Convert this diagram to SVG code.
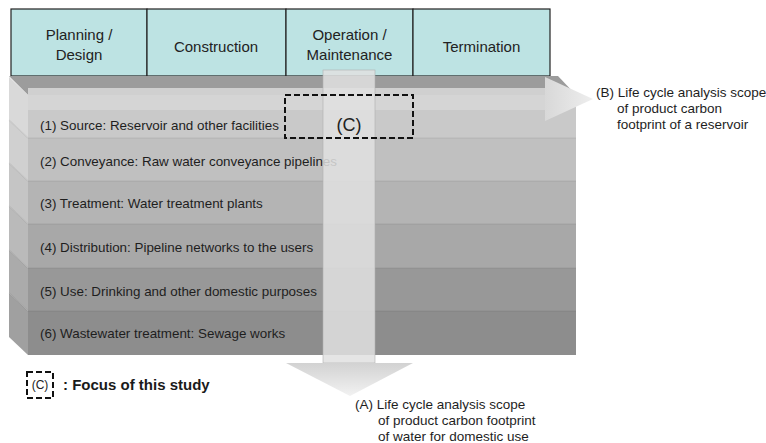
<svg xmlns="http://www.w3.org/2000/svg" width="766" height="443" viewBox="0 0 766 443">
<defs>
<style>
.hdr{fill:#bde3e3;stroke:#222;stroke-width:1.2}
.ht{font-family:"Liberation Sans",Arial,sans-serif;font-size:15px;fill:#222;text-anchor:middle}
.rt{font-family:"Liberation Sans",Arial,sans-serif;font-size:13.4px;fill:#1e1e1e}
.lb{font-family:"Liberation Sans",Arial,sans-serif;font-size:13.5px;fill:#1e1e1e}
.sep{stroke:#000;stroke-opacity:0.08;stroke-width:1.2}
.dash{fill:none;stroke:#111;stroke-width:2;stroke-dasharray:6 3}
</style>
<linearGradient id="headA" x1="0" y1="0" x2="0" y2="1">
<stop offset="0" stop-color="#d2d2d2"/><stop offset="1" stop-color="#f2f2f2"/>
</linearGradient>
<linearGradient id="headB" x1="0" y1="0" x2="1" y2="0">
<stop offset="0" stop-color="#d8d8d8"/><stop offset="1" stop-color="#eeeeee"/>
</linearGradient>
</defs>
<rect width="766" height="443" fill="#fff"/>

<g id="header">
<rect class="hdr" x="11" y="9" width="136" height="67"/>
<rect class="hdr" x="147" y="9" width="139" height="67"/>
<rect class="hdr" x="286" y="9" width="127" height="67"/>
<rect class="hdr" x="413" y="9" width="137" height="67"/>
<text class="ht" x="79" y="40">Planning /</text>
<text class="ht" x="79" y="60">Design</text>
<text class="ht" x="216" y="52">Construction</text>
<text class="ht" x="349.5" y="40">Operation /</text>
<text class="ht" x="349.5" y="60">Maintenance</text>
<text class="ht" x="481.5" y="52">Termination</text>
</g>

<g id="stack">
<polygon points="9,76 558,76 576,95 28,95" fill="#9c9c9c"/>
<polygon points="9,77 28,95 28,138 9,120" fill="#d9d9d9"/>
<polygon points="9,120 28,138 28,181 9,163" fill="#d0d0d0"/>
<polygon points="9,163 28,181 28,224 9,206" fill="#c5c5c5"/>
<polygon points="9,206 28,224 28,268 9,250" fill="#bababa"/>
<polygon points="9,250 28,268 28,311 9,293" fill="#ababab"/>
<polygon points="9,293 28,311 28,355 9,337" fill="#a0a0a0"/>
<g class="sep">
<line x1="9" y1="120" x2="28" y2="138"/><line x1="9" y1="163" x2="28" y2="181"/>
<line x1="9" y1="206" x2="28" y2="224"/><line x1="9" y1="250" x2="28" y2="268"/>
<line x1="9" y1="293" x2="28" y2="311"/>
</g>
</g>

<g id="row1"><rect x="28" y="95" width="548" height="43" fill="#c9c9c9"/>
<text class="rt" x="40" y="130">(1) Source: Reservoir and other facilities</text></g>
<g id="row2"><rect x="28" y="138" width="548" height="43" fill="#c0c0c0"/>
<text class="rt" x="40" y="166">(2) Conveyance: Raw water conveyance pipelines</text></g>
<g id="row3"><rect x="28" y="181" width="548" height="43" fill="#b4b4b4"/>
<text class="rt" x="40" y="208">(3) Treatment: Water treatment plants</text></g>
<g id="row4"><rect x="28" y="224" width="548" height="44" fill="#a8a8a8"/>
<text class="rt" x="40" y="252">(4) Distribution: Pipeline networks to the users</text></g>
<g id="row5"><rect x="28" y="268" width="548" height="43" fill="#989898"/>
<text class="rt" x="40" y="296">(5) Use: Drinking and other domestic purposes</text></g>
<g id="row6"><rect x="28" y="311" width="548" height="44" fill="#8d8d8d"/>
<text class="rt" x="40" y="338">(6) Wastewater treatment: Sewage works</text></g>
<g class="sep">
<line x1="28" y1="138" x2="576" y2="138"/><line x1="28" y1="181" x2="576" y2="181"/>
<line x1="28" y1="224" x2="576" y2="224"/><line x1="28" y1="268" x2="576" y2="268"/>
<line x1="28" y1="311" x2="576" y2="311"/>
</g>

<g id="connectors">
<g id="arrowB">
<rect x="28" y="88" width="518" height="22" fill="#d6d6d6" fill-opacity="0.9"/>
<polygon points="545,77 593,99 545,121" fill="url(#headB)"/>
</g>
<g id="arrowA">
<rect x="323" y="70" width="52" height="293" fill="#e0e0e0" fill-opacity="0.85" stroke="#b0b0b0" stroke-width="0.6"/>
<polygon points="286,363 413,363 350,396" fill="url(#headA)"/>
</g>
</g>

<g id="focusC">
<rect class="dash" x="285" y="95" width="128" height="43"/>
<text x="349" y="131" font-family="Liberation Sans, Arial, sans-serif" font-size="18" fill="#222" text-anchor="middle">(C)</text>
</g>

<g id="labelB">
<text class="lb" x="596" y="97">(B) Life cycle analysis scope</text>
<text class="lb" x="617" y="113">of product carbon</text>
<text class="lb" x="617" y="129">footprint of a reservoir</text>
</g>

<g id="labelA">
<text class="lb" x="355" y="409">(A) Life cycle analysis scope</text>
<text class="lb" x="378" y="425">of product carbon footprint</text>
<text class="lb" x="378" y="441">of water for domestic use</text>
</g>

<g id="legend">
<rect class="dash" x="27" y="372" width="26" height="26"/>
<text x="40" y="389" font-family="Liberation Sans, Arial, sans-serif" font-size="12" fill="#222" text-anchor="middle">(C)</text>
<text x="63" y="390" font-family="Liberation Sans, Arial, sans-serif" font-size="15" font-weight="bold" fill="#1a1a1a">: Focus of this study</text>
</g>
</svg>
